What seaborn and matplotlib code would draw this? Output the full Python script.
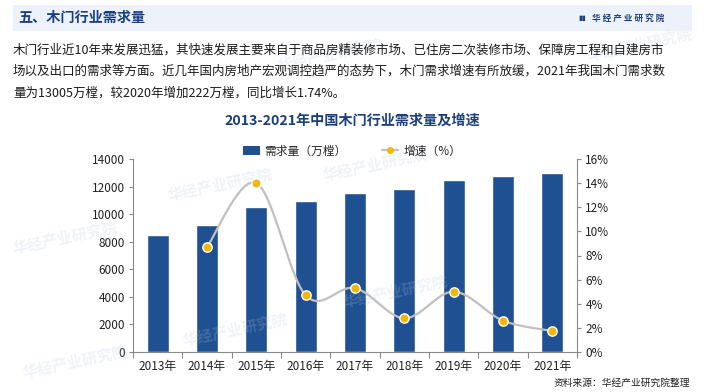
import numpy as np
import pandas as pd
import seaborn as sns
import matplotlib.pyplot as plt
from matplotlib.patches import Rectangle, Patch
from matplotlib.lines import Line2D

years = ["2013年", "2014年", "2015年", "2016年", "2017年", "2018年", "2019年", "2020年", "2021年"]
demand = [8500, 9240, 10530, 10950, 11540, 11860, 12460, 12783, 13005]
growth = [None, 8.7, 14.0, 4.7, 5.3, 2.8, 5.0, 2.6, 1.74]

header = "五、木门行业需求量"
brand = "华经产业研究院"
paragraph = [
    "木门行业近10年来发展迅猛，其快速发展主要来自于商品房精装修市场、已住房二次装修市场、保障房工程和自建房市",
    "场以及出口的需求等方面。近几年国内房地产宏观调控趋严的态势下，木门需求增速有所放缓，2021年我国木门需求数",
    "量为13005万樘，较2020年增加222万樘，同比增长1.74%。",
]
chart_title = "2013-2021年中国木门行业需求量及增速"
source = "资料来源：华经产业研究院整理"

BLUE = "#1f5192"
DARK = "#1b3f7c"
GOLD = "#f2b705"
GREY = "#c0c0c0"

sns.set_theme(style="white")
plt.rcParams["font.family"] = ["Liberation Sans Narrow", "Noto Sans CJK SC", "DejaVu Sans"]
cjk = ["Noto Sans CJK SC", "DejaVu Sans"]


def smooth(xs, ys, n=30):
    # Excel-style smoothed line (Bezier through the points, tension 1/6)
    xs, ys = np.asarray(xs, float), np.asarray(ys, float)
    px, py = [], []
    for i in range(len(xs) - 1):
        i0, i3 = max(i - 1, 0), min(i + 2, len(xs) - 1)
        p0, p1 = np.array([xs[i0], ys[i0]]), np.array([xs[i], ys[i]])
        p2, p3 = np.array([xs[i + 1], ys[i + 1]]), np.array([xs[i3], ys[i3]])
        c1 = p1 + (p2 - p0) / 6
        c2 = p2 - (p3 - p1) / 6
        t = np.linspace(0, 1, n)[:, None]
        seg = (1 - t) ** 3 * p1 + 3 * (1 - t) ** 2 * t * c1 + 3 * (1 - t) * t ** 2 * c2 + t ** 3 * p2
        px.extend(seg[:, 0])
        py.extend(seg[:, 1])
    return np.array(px), np.array(py)


fig = plt.figure(figsize=(7.05, 3.92), dpi=100)
fig.patch.set_facecolor("white")

# ---- faint watermarks ----
for wx, wy in [(65, 238), (220, 185), (375, 165), (75, 362), (235, 330), (395, 292), (330, 55), (640, 45)]:
    fig.text(wx / 705, 1 - wy / 392, brand, family=cjk, fontsize=11, fontweight="bold",
             color="#b8c4d8", alpha=0.22, rotation=12, ha="center", va="center", zorder=0)

# ---- header band ----
fig.patches.append(Rectangle((13 / 705, 1 - 31 / 392), 679 / 705, 26 / 392,
                             transform=fig.transFigure, facecolor="#edf2fa", edgecolor="none"))
fig.text(18 / 705, 1 - 18 / 392, header, family=cjk, fontsize=10.2, fontweight="bold",
         color=DARK, va="center", ha="left")
fig.text(582 / 705, 1 - 18 / 392, "▮▮", family=cjk, fontsize=5, color=DARK, va="center", ha="center")
fig.text(592 / 705, 1 - 18 / 392, " ".join(brand), family=cjk, fontsize=6.2,
         fontweight="bold", color=DARK, va="center", ha="left")

# ---- paragraph ----
for k, line in enumerate(paragraph):
    fig.text(13 / 705, 1 - (50 + k * 21.5) / 392, line, family=cjk, fontsize=9.0,
             color="#1a1a1a", va="center", ha="left")

fig.text(352 / 705, 1 - 121 / 392, chart_title, family=cjk, fontsize=10.2, fontweight="bold",
         color=DARK, va="center", ha="center")

# ---- chart ----
ax = fig.add_axes([133 / 705, 1 - 352 / 392, 444 / 705, 193 / 392])
ax.patch.set_alpha(0)
df = pd.DataFrame({"year": years, "demand": demand})
sns.barplot(data=df, x="year", y="demand", color=BLUE, saturation=1, width=0.45, ax=ax)
ax.set_xlim(-0.5, len(years) - 0.5)
ax.set_ylim(0, 14000)
ax.set_yticks(np.arange(0, 14001, 2000))
ax.set_xlabel("")
ax.set_ylabel("")
ax.set_xticks(np.arange(len(years)))
ax.set_xticklabels(years, fontsize=8.5, color="#222222")
ax.set_xticks(np.arange(len(years) + 1) - 0.5, minor=True)
ax.tick_params(axis="x", which="major", length=0, pad=6)
ax.tick_params(axis="x", which="minor", length=4, width=0.8, color="#888888", direction="out")
ax.tick_params(axis="y", length=3, width=0.8, color="#888888", direction="out", labelsize=8.5,
               labelcolor="#222222", pad=3)
ax.tick_params(axis="y", left=True)
ax.tick_params(axis="x", which="minor", bottom=True)
for s in ["top", "right"]:
    ax.spines[s].set_visible(False)
for s in ["left", "bottom"]:
    ax.spines[s].set_color("#888888")
    ax.spines[s].set_linewidth(0.8)
ax.grid(False)

ax2 = ax.twinx()
gx = [i for i, g in enumerate(growth) if g is not None]
gy = [g for g in growth if g is not None]
sx, sy = smooth(gx, gy)
sns.lineplot(x=sx, y=sy, color=GREY, linewidth=1.6, ax=ax2, sort=False)
sns.scatterplot(x=gx, y=gy, color=GOLD, s=45, edgecolor="white", linewidth=1.0, ax=ax2, zorder=5)
ax2.set_ylim(0, 16)
ax2.set_yticks(np.arange(0, 17, 2))
ax2.set_yticklabels([f"{v}%" for v in range(0, 17, 2)])
ax2.tick_params(axis="y", right=True, length=3, width=0.8, color="#888888", direction="out",
                labelsize=8.5, labelcolor="#222222", pad=3)
for s in ["top", "left", "bottom"]:
    ax2.spines[s].set_visible(False)
ax2.spines["right"].set_color("#888888")
ax2.spines["right"].set_linewidth(0.8)
ax2.grid(False)
ax2.set_ylabel("")

handles = [Patch(facecolor=BLUE, edgecolor="none"),
           Line2D([0], [0], color=GREY, linewidth=1.6, marker="o", markersize=4,
                  markerfacecolor=GOLD, markeredgecolor=GOLD)]
fig.legend(handles, ["需求量（万樘）", "增速（%）"], loc="center", bbox_to_anchor=(352 / 705, 1 - 151 / 392),
           ncol=2, frameon=False, prop={"family": cjk, "size": 8.5}, handlelength=1.4,
           handleheight=0.9, columnspacing=3.0, handletextpad=0.4)

fig.text(690 / 705, 1 - 383 / 392, source, family=cjk, fontsize=7, color="#222222",
         va="center", ha="right")

fig.savefig("out.png", dpi=100)
